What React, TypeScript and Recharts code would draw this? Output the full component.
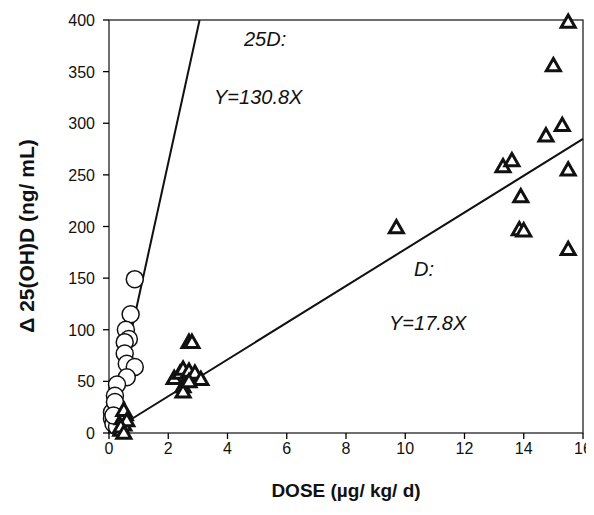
import React from "react";
import { ScatterChart, Scatter, XAxis, YAxis, Customized, usePlotArea } from "recharts";

const circles = [
  [0.87,149],[0.73,115],[0.57,100],[0.67,91],[0.53,88],[0.53,77],[0.6,67],[0.87,64],[0.6,54],
  [0.27,47],[0.2,36],[0.27,26],[0.1,20],[0.1,14],[0.15,9],[0.27,6],[0.2,30],[0.15,17]
].map(([x, y]) => ({ x, y }));
const triangles = [
  [0.4,3],[0.5,8],[0.45,14],[0.55,18],[0.5,22],[0.6,12],[0.4,6],[0.5,0],
  [2.7,88],[2.8,88],[2.2,53],[2.4,58],[2.5,62],[2.7,60],[2.9,58],[3.1,52],[2.5,45],[2.5,40],[2.7,50],
  [9.7,199],[13.3,258],[13.6,264],[13.9,229],[13.85,197],[14.0,196],[14.75,288],[15.0,356],[15.3,298],[15.5,398],[15.5,255],[15.5,178]
].map(([x, y]) => ({ x, y }));
const fit25D = [{ x: 0, y: 0 }, { x: 400 / 130.8, y: 400 }];
const fitD = [{ x: 0, y: 0 }, { x: 16, y: 17.8 * 16 }];
const xTicks = [0, 2, 4, 6, 8, 10, 12, 14, 16];
const yTicks = [0, 50, 100, 150, 200, 250, 300, 350, 400];

const F = "Arial, 'Liberation Sans', sans-serif";

const Tri = (p: any) => {
  const { cx, cy } = p;
  const s = 7;
  return <polygon points={`${cx},${cy - s} ${cx + s},${cy + s * 0.75} ${cx - s},${cy + s * 0.75}`} fill="white" stroke="#111" strokeWidth={3} />;
};
const Circ = (p: any) => <circle cx={p.cx} cy={p.cy} r={8.5} fill="white" stroke="#111" strokeWidth={1.5} />;
const None = () => null;

const XTick = (p: any) => (
  <g>
    <path d={`M${p.x},425V431`} stroke="#000" strokeWidth={1.3} fill="none" />
    <text x={p.x} y={p.y + 13} textAnchor="middle" fontFamily={F} fontSize={16} fill="#111">{p.payload.value}</text>
  </g>
);
const YTick = (p: any) => (
  <g>
    <path d={`M95,${p.y}H101`} stroke="#000" strokeWidth={1.3} fill="none" />
    <text x={p.x - 6} y={p.y + 6} textAnchor="end" fontFamily={F} fontSize={16} fill="#111">{p.payload.value}</text>
  </g>
);

const Frame = () => {
  const a = usePlotArea();
  if (!a) return null;
  return <rect x={a.x} y={a.y} width={a.width} height={a.height} fill="none" stroke="#222" strokeWidth={1.3} />;
};

export default function App() {
  return (
    <div style={{ width: 586, height: 499 }}>
      <ScatterChart width={586} height={499} margin={{ top: 12, right: 11, left: 0, bottom: 0 }} style={{ overflow: "visible" }}>
        <XAxis type="number" dataKey="x" domain={[0, 16]} ticks={xTicks} height={74} tickLine={false} tick={<XTick />} interval={0} axisLine={false} />
        <YAxis type="number" dataKey="y" domain={[0, 400]} ticks={yTicks} width={101} tickLine={false} tick={<YTick />} interval={0} axisLine={false} />
        <Customized component={<Frame />} />
        <Scatter data={fit25D} line={{ stroke: "#111", strokeWidth: 2 }} shape={<None />} isAnimationActive={false} />
        <Scatter data={fitD} line={{ stroke: "#111", strokeWidth: 2 }} shape={<None />} isAnimationActive={false} />
        <Scatter data={circles} shape={<Circ />} isAnimationActive={false} />
        <Scatter data={triangles} shape={<Tri />} isAnimationActive={false} />
        <text x={338} y={489} textAnchor="middle" fontFamily={F} fontSize={19} fontWeight="bold" fill="#111">DOSE (µg/ kg/ d)</text>
        <text x={26} y={228} transform="rotate(-90 26 228)" textAnchor="middle" fontFamily={F} fontSize={21} fontWeight="bold" fill="#111">Δ 25(OH)D (ng/ mL)</text>
        <text x={236} y={38} fontFamily={F} fontSize={20} fontStyle="italic" fill="#111">25D:</text>
        <text x={206} y={96} fontFamily={F} fontSize={20} fontStyle="italic" fill="#111">Y=130.8X</text>
        <text x={406} y={268} fontFamily={F} fontSize={20} fontStyle="italic" fill="#111">D:</text>
        <text x={381} y={322} fontFamily={F} fontSize={20} fontStyle="italic" fill="#111">Y=17.8X</text>
      </ScatterChart>
    </div>
  );
}
